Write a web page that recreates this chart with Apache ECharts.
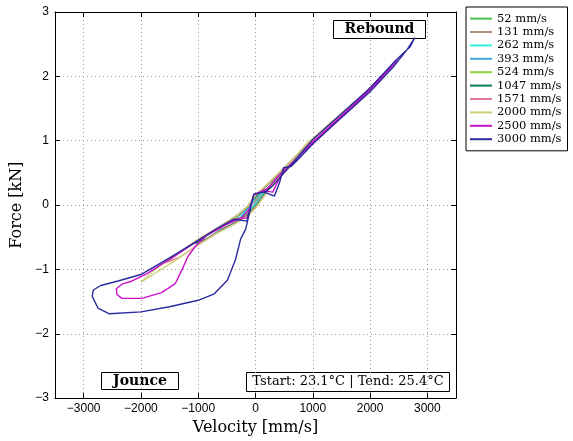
<!DOCTYPE html>
<html>
<head>
<meta charset="utf-8">
<script src="https://cdn.jsdelivr.net/npm/echarts@6/dist/echarts.min.js"></script>
<style>
  html, body { margin: 0; padding: 0; background: #fff; }
  #chart { width: 573px; height: 441px; }
</style>
</head>
<body>
<div id="chart"></div>
<script>
// tick labels
const xTicks = [-3000, -2000, -1000, 0, 1000, 2000, 3000];
const yTicks = [-3, -2, -1, 0, 1, 2, 3];

// legend names
const names = ['52 mm/s', '131 mm/s', '262 mm/s', '393 mm/s', '524 mm/s',
  '1047 mm/s', '1571 mm/s', '2000 mm/s', '2500 mm/s', '3000 mm/s'];
const colors = ['#4dbf4d', '#b8907a', '#30f0d8', '#44a8dc', '#8cd43c',
  '#0b7a55', '#e07a9a', '#cfcf7a', '#c812c8', '#2a2a9e'];

// loops: [velocity mm/s, force kN]
const s52 = [[0,0.03],[26,0.07],[52,0.11],[26,0.08],[0,0.01],[-26,-0.04],[-52,-0.08],[-26,-0.03],[0,0.03]];
const s131 = [[0,0.04],[65,0.12],[131,0.18],[65,0.14],[0,0.06],[-65,-0.05],[-131,-0.12],[-65,-0.08],[0,0.04]];
const s262 = [[0,0.02],[130,0.16],[262,0.3],[130,0.2],[0,0.1],[-130,-0.06],[-262,-0.18],[-130,-0.12],[0,0.02]];
const s393 = [[0,0.0],[100,0.12],[250,0.3],[393,0.42],[250,0.36],[100,0.2],[0,0.1],[-100,-0.02],[-250,-0.14],
  [-393,-0.24],[-250,-0.19],[-100,-0.1],[0,0.0]];
const s524 = [[0,-0.02],[130,0.14],[300,0.36],[524,0.56],[350,0.44],[150,0.26],[0,0.12],[-150,-0.03],[-350,-0.2],
  [-524,-0.3],[-350,-0.24],[-150,-0.14],[0,-0.02]];
const s1047 = [[0,-0.03],[150,0.16],[350,0.4],[550,0.58],[800,0.8],[1047,1.02],[800,0.84],[550,0.62],[300,0.4],
  [120,0.24],[0,0.13],[-150,-0.04],[-350,-0.18],[-600,-0.32],[-850,-0.47],[-1047,-0.6],[-850,-0.52],[-600,-0.38],
  [-350,-0.27],[-150,-0.16],[0,-0.03]];
const s1571 = [[0,-0.04],[150,0.14],[350,0.38],[550,0.58],[900,0.9],[1250,1.18],[1571,1.44],[1250,1.22],[900,0.95],
  [600,0.66],[350,0.44],[150,0.27],[0,0.15],[-150,-0.03],[-350,-0.18],[-650,-0.35],[-1000,-0.55],[-1300,-0.73],
  [-1571,-0.9],[-1300,-0.8],[-1000,-0.62],[-650,-0.42],[-350,-0.28],[-150,-0.17],[0,-0.04]];
const s2000 = [[0,-0.05],[150,0.14],[350,0.36],[550,0.57],[900,0.9],[1300,1.22],[1700,1.53],[2000,1.79],[1700,1.58],
  [1300,1.27],[900,0.96],[600,0.66],[350,0.45],[150,0.28],[0,0.16],[-150,-0.03],[-350,-0.18],[-700,-0.37],
  [-1000,-0.53],[-1400,-0.78],[-1750,-1.0],[-2000,-1.2],[-1750,-1.06],[-1400,-0.86],[-1000,-0.62],[-700,-0.45],
  [-350,-0.29],[-150,-0.18],[0,-0.05]];
const s2500 = [[-30,0.16],[150,0.22],[300,0.2],[420,0.42],[550,0.58],[900,0.88],[1300,1.2],[1700,1.52],[2100,1.88],
  [2480,2.25],[2200,2.0],[1800,1.64],[1400,1.3],[1000,0.98],[650,0.66],[400,0.45],[200,0.25],[-30,0.16],
  [-150,-0.2],[-350,-0.22],[-700,-0.38],[-1000,-0.55],[-1500,-0.84],[-1900,-1.07],[-2155,-1.18],[-2330,-1.23],
  [-2430,-1.3],[-2420,-1.39],[-2330,-1.45],[-1983,-1.45],[-1640,-1.36],[-1400,-1.22],[-1280,-1.0],[-1180,-0.8],
  [-1050,-0.64],[-850,-0.47],[-500,-0.3],[-250,-0.2],[-100,-0.05],[-30,0.16]];
const s3000 = [[-380,-0.22],[-150,-0.25],[-30,0.17],[150,0.2],[330,0.14],[420,0.35],[490,0.58],[620,0.6],[800,0.76],
  [1000,0.95],[1500,1.36],[2000,1.76],[2400,2.14],[2650,2.42],[2780,2.6],[2700,2.46],[2450,2.25],[2000,1.82],
  [1500,1.42],[1000,1.02],[700,0.7],[500,0.5],[300,0.3],[180,0.21],[-30,0.17],[-170,-0.37],[-260,-0.53],
  [-350,-0.85],[-490,-1.17],[-720,-1.38],[-1000,-1.48],[-1500,-1.58],[-2000,-1.66],[-2550,-1.69],[-2750,-1.6],
  [-2850,-1.42],[-2830,-1.32],[-2700,-1.25],[-2400,-1.18],[-2000,-1.08],[-1500,-0.82],[-1000,-0.55],[-700,-0.38],
  [-380,-0.22]];
const loops = [s52, s131, s262, s393, s524, s1047, s1571, s2000, s2500, s3000];

const minus = v => String(v).replace('-', '\u2212');
const tickFont = { fontFamily: 'Liberation Sans', fontSize: 12, color: '#000' };
const dotted = { show: true, lineStyle: { color: '#9a9a9a', type: [1, 3], width: 1 } };

const chart = echarts.init(document.getElementById('chart'));

const series = loops.map((d, i) => ({
  name: names[i],
  type: 'line',
  data: d,
  showSymbol: false,
  symbol: 'none',
  animation: false,
  lineStyle: { color: colors[i], width: 1.4 },
  itemStyle: { color: colors[i] }
}));

chart.setOption({
  animation: false,
  grid: { left: 55, right: 117, top: 12, bottom: 41 },
  legend: {
    orient: 'vertical',
    left: 466, top: 7,
    data: names,
    icon: 'rect',
    itemWidth: 22, itemHeight: 2,
    itemGap: 0.2,
    padding: [5, 6, 5, 4],
    borderColor: '#000', borderWidth: 1,
    backgroundColor: '#fff',
    textStyle: { fontFamily: 'DejaVu Serif', fontSize: 11.5, lineHeight: 13.2, color: '#000' }
  },
  xAxis: [{
    type: 'value', min: -3500, max: 3500,
    name: 'Velocity [mm/s]', nameLocation: 'middle', nameGap: 21,
    nameTextStyle: { fontFamily: 'DejaVu Serif', fontSize: 16, color: '#000' },
    axisLine: { show: true, onZero: false, lineStyle: { color: '#000' } },
    axisTick: { inside: true, length: 5, customValues: xTicks, lineStyle: { color: '#000' } },
    axisLabel: { customValues: xTicks, formatter: minus, margin: 5, ...tickFont },
    splitLine: dotted
  }, {
    type: 'value', min: -3500, max: 3500, position: 'top',
    axisLine: { show: true, onZero: false, lineStyle: { color: '#000' } },
    axisTick: { inside: true, length: 5, customValues: xTicks, lineStyle: { color: '#000' } },
    axisLabel: { show: false },
    splitLine: { show: false }
  }],
  yAxis: [{
    type: 'value', min: -3, max: 3, interval: 1,
    name: 'Force [kN]', nameLocation: 'middle', nameGap: 22,
    nameTextStyle: { fontFamily: 'DejaVu Serif', fontSize: 16, color: '#000' },
    axisLine: { show: true, onZero: false, lineStyle: { color: '#000' } },
    axisTick: { inside: true, length: 5, lineStyle: { color: '#000' } },
    axisLabel: { formatter: minus, margin: 6, ...tickFont },
    splitLine: dotted
  }, {
    type: 'value', min: -3, max: 3, interval: 1, position: 'right',
    axisLine: { show: true, onZero: false, lineStyle: { color: '#000' } },
    axisTick: { inside: true, length: 5, lineStyle: { color: '#000' } },
    axisLabel: { show: false },
    splitLine: { show: false }
  }],
  series: series,
  graphic: [
    {
      type: 'group', left: 333, top: 20, z: 100,
      children: [
        { type: 'rect', shape: { x: 0, y: 0, width: 92, height: 18 }, style: { fill: '#fff', stroke: '#000', lineWidth: 1 } },
        { type: 'text', x: 46, y: 9, style: { text: 'Rebound', font: 'bold 14px "DejaVu Serif"', fill: '#000', align: 'center', verticalAlign: 'middle' } }
      ]
    },
    {
      type: 'group', left: 101, top: 372, z: 100,
      children: [
        { type: 'rect', shape: { x: 0, y: 0, width: 77, height: 17 }, style: { fill: '#fff', stroke: '#000', lineWidth: 1 } },
        { type: 'text', x: 38.5, y: 8.5, style: { text: 'Jounce', font: 'bold 14px "DejaVu Serif"', fill: '#000', align: 'center', verticalAlign: 'middle' } }
      ]
    },
    {
      type: 'group', left: 246, top: 372, z: 100,
      children: [
        { type: 'rect', shape: { x: 0, y: 0, width: 203, height: 19 }, style: { fill: '#fff', stroke: '#000', lineWidth: 1 } },
        { type: 'text', x: 101.5, y: 9.5, style: { text: 'Tstart: 23.1\u00B0C | Tend: 25.4\u00B0C', font: '13px "DejaVu Serif"', fill: '#000', align: 'center', verticalAlign: 'middle' } }
      ]
    }
  ]
});
</script>
</body>
</html>
